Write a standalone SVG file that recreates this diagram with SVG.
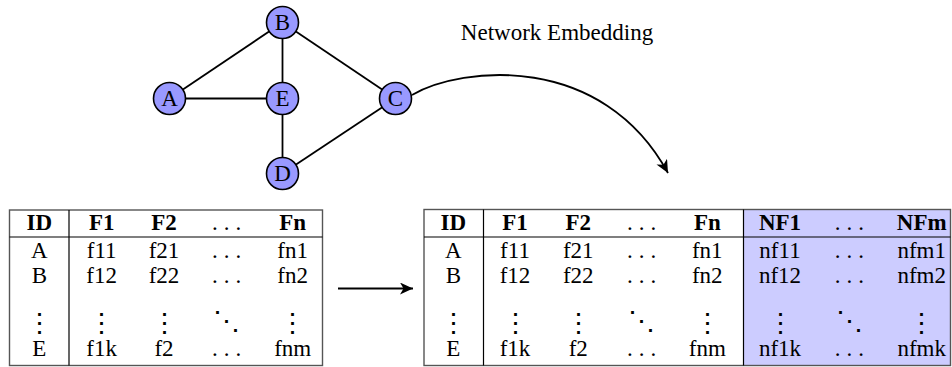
<svg xmlns="http://www.w3.org/2000/svg" width="952" height="367" viewBox="0 0 952 367" font-family="'Liberation Serif', 'DejaVu Serif', serif">
<style>
text{font-family:'Liberation Serif','DejaVu Serif',serif;font-size:23px;fill:#000;text-anchor:middle}
.b{font-weight:bold}
.d{letter-spacing:6px}
.v{font-family:'DejaVu Serif',serif;font-size:27px}
.node circle{fill:#9999ff;stroke:#000;stroke-width:1.6}
.edge{stroke:#000;stroke-width:1.8;fill:none}
.frame{fill:none;stroke:#555;stroke-width:1.4}
.rule{stroke:#000;stroke-width:1.2}
</style>
<defs>
<marker id="ah" markerUnits="userSpaceOnUse" markerWidth="16" markerHeight="14" refX="13" refY="6" orient="auto" viewBox="0 0 16 14">
<path d="M0 0 L13 6 L0 12 L3.5 6 Z" fill="#000"/>
</marker>
</defs>
<g id="connectors">
<line class="edge" x1="169.5" y1="98.5" x2="282.5" y2="22.5"/>
<line class="edge" x1="169.5" y1="98.5" x2="282.5" y2="98.5"/>
<line class="edge" x1="282.5" y1="22.5" x2="282.5" y2="98.5"/>
<line class="edge" x1="282.5" y1="22.5" x2="395.5" y2="98.5"/>
<line class="edge" x1="282.5" y1="98.5" x2="282.5" y2="173.5"/>
<line class="edge" x1="282.5" y1="173.5" x2="395.5" y2="98.5"/>
<path class="edge" d="M412 95 C462 66 602 52 668 173" marker-end="url(#ah)"/>
<line class="edge" x1="338" y1="288.5" x2="413" y2="288.5" marker-end="url(#ah)"/>
</g>
<g id="node-A" class="node"><circle cx="169.5" cy="98.5" r="16"/><text x="169.5" y="106">A</text></g>
<g id="node-B" class="node"><circle cx="282.5" cy="22.5" r="16"/><text x="282.5" y="30">B</text></g>
<g id="node-E" class="node"><circle cx="282.5" cy="98.5" r="16"/><text x="282.5" y="106">E</text></g>
<g id="node-C" class="node"><circle cx="395.5" cy="98.5" r="16"/><text x="395.5" y="106">C</text></g>
<g id="node-D" class="node"><circle cx="282.5" cy="173.5" r="16"/><text x="282.5" y="181">D</text></g>
<text id="label" x="557" y="40">Network Embedding</text>
<g id="table-left">
<rect class="frame" x="9.5" y="210" width="313" height="155.5"/>
<line class="rule" x1="9.5" y1="237" x2="322.5" y2="237"/>
<line class="rule" x1="69" y1="210" x2="69" y2="365.5"/>
<text class="b" x="39.3" y="230">ID</text>
<text class="b" x="101.7" y="230">F1</text>
<text class="b" x="164" y="230">F2</text>
<text class="d" x="229.7" y="230">...</text>
<text class="b" x="292.7" y="230">Fn</text>
<text x="39.3" y="258">A</text><text x="101.7" y="258">f11</text><text x="164" y="258">f21</text><text class="d" x="229.7" y="258">...</text><text x="292.7" y="258">fn1</text>
<text x="39.3" y="283">B</text><text x="101.7" y="283">f12</text><text x="164" y="283">f22</text><text class="d" x="229.7" y="283">...</text><text x="292.7" y="283">fn2</text>
<text class="v" x="39.3" y="332">⋮</text><text class="v" x="101.7" y="332">⋮</text><text class="v" x="164" y="332">⋮</text><text class="v" x="226.7" y="330">⋱</text><text class="v" x="292.7" y="332">⋮</text>
<text x="39.3" y="356">E</text><text x="101.7" y="356">f1k</text><text x="164" y="356">f2</text><text class="d" x="229.7" y="356">...</text><text x="292.7" y="356">fnm</text>
</g>
<g id="table-right">
<rect x="743.5" y="209.5" width="207" height="156" fill="#ccccff"/>
<rect class="frame" x="424" y="209.5" width="526.5" height="156"/>
<line class="rule" x1="424" y1="237" x2="950.5" y2="237"/>
<line class="rule" x1="483.5" y1="209.5" x2="483.5" y2="365.5"/>
<line class="rule" x1="743.5" y1="209.5" x2="743.5" y2="365.5"/>
<text class="b" x="453.3" y="230">ID</text>
<text class="b" x="515" y="230">F1</text>
<text class="b" x="578.3" y="230">F2</text>
<text class="d" x="644.7" y="230">...</text>
<text class="b" x="707.3" y="230">Fn</text>
<text class="b" x="780" y="230">NF1</text>
<text class="d" x="852.3" y="230">...</text>
<text class="b" x="921.7" y="230">NFm</text>
<text x="453.3" y="258">A</text><text x="515" y="258">f11</text><text x="578.3" y="258">f21</text><text class="d" x="644.7" y="258">...</text><text x="707.3" y="258">fn1</text><text x="780" y="258">nf11</text><text class="d" x="852.3" y="258">...</text><text x="921.7" y="258">nfm1</text>
<text x="453.3" y="283">B</text><text x="515" y="283">f12</text><text x="578.3" y="283">f22</text><text class="d" x="644.7" y="283">...</text><text x="707.3" y="283">fn2</text><text x="780" y="283">nf12</text><text class="d" x="852.3" y="283">...</text><text x="921.7" y="283">nfm2</text>
<text class="v" x="453.3" y="332">⋮</text><text class="v" x="515" y="332">⋮</text><text class="v" x="578.3" y="332">⋮</text><text class="v" x="641.7" y="330">⋱</text><text class="v" x="707.3" y="332">⋮</text><text class="v" x="780" y="332">⋮</text><text class="v" x="849.3" y="330">⋱</text><text class="v" x="921.7" y="332">⋮</text>
<text x="453.3" y="356">E</text><text x="515" y="356">f1k</text><text x="578.3" y="356">f2</text><text class="d" x="644.7" y="356">...</text><text x="707.3" y="356">fnm</text><text x="780" y="356">nf1k</text><text class="d" x="852.3" y="356">...</text><text x="921.7" y="356">nfmk</text>
</g>
</svg>
